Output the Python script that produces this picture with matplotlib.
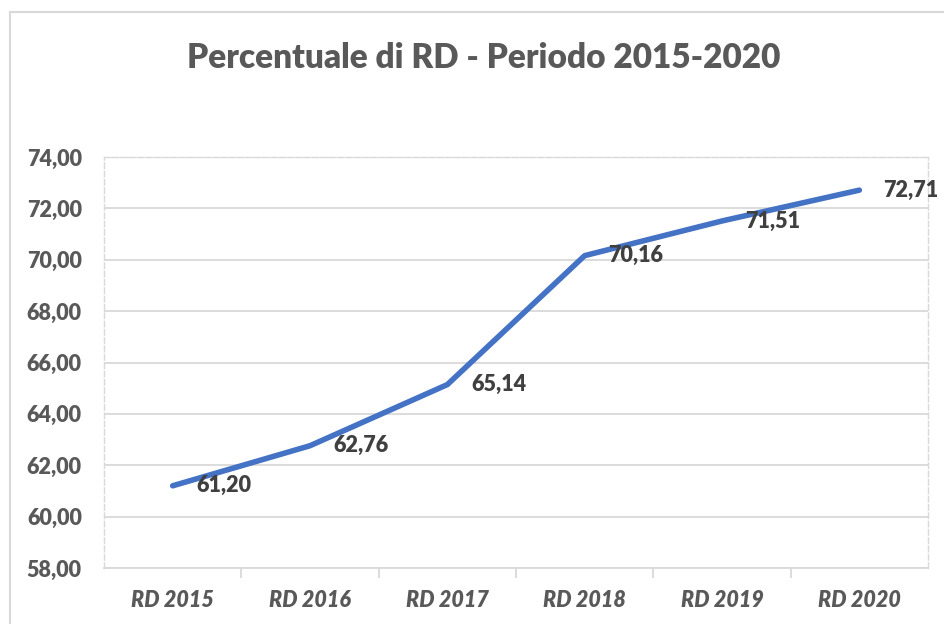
import matplotlib.pyplot as plt
from matplotlib.patches import Rectangle

categorie = ['RD 2015', 'RD 2016', 'RD 2017', 'RD 2018', 'RD 2019', 'RD 2020']
valori = [61.20, 62.76, 65.14, 70.16, 71.51, 72.71]
yticks = [58, 60, 62, 64, 66, 68, 70, 72, 74]

plt.rcParams['font.family'] = ['Lato', 'DejaVu Sans']

W, H = 944, 624
fig = plt.figure(figsize=(W / 100, H / 100), dpi=100)
ax = fig.add_axes([104 / W, 1 - 568 / H, (928 - 104) / W, (568 - 157) / H])

# cornice esterna del grafico
fig.patches.append(Rectangle((10 / W, -0.1), 1.2, 1 - 12 / H + 0.1, transform=fig.transFigure,
                             fill=False, edgecolor='#d9d9d9', linewidth=1.5))

x = list(range(len(categorie)))
ax.plot(x, valori, color='#4472c4', linewidth=4, solid_capstyle='round')

for xi, v in zip(x, valori):
    ax.annotate(f'{v:.2f}'.replace('.', ','), (xi, v), xytext=(17, 0), textcoords='offset points',
                ha='left', va='center', fontsize=15.5, fontweight='heavy', color='#404040')

ax.set_xlim(-0.5, len(categorie) - 0.5)
ax.set_ylim(58, 74)
ax.set_yticks(yticks)
ax.set_yticklabels([f'{t:.2f}'.replace('.', ',') for t in yticks], fontsize=15.5,
                   fontweight='heavy', color='#595959')
ax.set_xticks(x)
ax.set_xticklabels(categorie, fontsize=15.5, fontweight='heavy', fontstyle='italic', color='#595959')
ax.tick_params(axis='x', length=0, pad=16)
ax.tick_params(axis='y', length=0, pad=16)
ax.set_xticks([i - 0.5 for i in range(1, len(categorie))], minor=True)
ax.tick_params(axis='x', which='minor', length=7, color='#d9d9d9', width=1.3)

ax.grid(axis='y', color='#d9d9d9', linewidth=1.3)
ax.set_axisbelow(True)
for s in ['left', 'right', 'top']:
    ax.spines[s].set_color('#d9d9d9')
    ax.spines[s].set_linestyle((0, (4, 2)))
    ax.spines[s].set_linewidth(1.0)
ax.spines['bottom'].set_color('#d9d9d9')
ax.spines['bottom'].set_linewidth(1.3)

fig.text(484 / W, 1 - 58 / H, 'Percentuale di RD - Periodo 2015-2020', ha='center', va='center',
         fontsize=24, fontweight='heavy', color='#595959')

fig.savefig('out.png', dpi=100)
